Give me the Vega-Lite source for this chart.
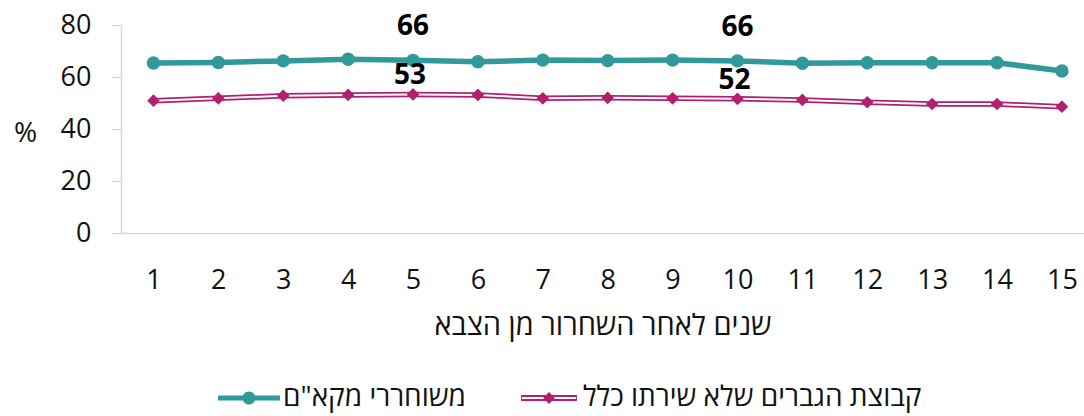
{
  "$schema": "https://vega.github.io/schema/vega-lite/v6.json",
  "width": 963,
  "height": 208,
  "autosize": {"type": "none"},
  "padding": {"left": 121, "top": 25, "right": 0, "bottom": 183},
  "background": "white",
  "config": {"font": "Open Sans", "view": {"stroke": null}},
  "data": {
    "values": [
      {"year": 1, "series": "משוחררי מקא\"ם", "value": 65.4},
      {"year": 2, "series": "משוחררי מקא\"ם", "value": 65.6},
      {"year": 3, "series": "משוחררי מקא\"ם", "value": 66.2},
      {"year": 4, "series": "משוחררי מקא\"ם", "value": 66.8},
      {"year": 5, "series": "משוחררי מקא\"ם", "value": 66.4},
      {"year": 6, "series": "משוחררי מקא\"ם", "value": 65.9},
      {"year": 7, "series": "משוחררי מקא\"ם", "value": 66.5},
      {"year": 8, "series": "משוחררי מקא\"ם", "value": 66.3},
      {"year": 9, "series": "משוחררי מקא\"ם", "value": 66.5},
      {"year": 10, "series": "משוחררי מקא\"ם", "value": 66.2},
      {"year": 11, "series": "משוחררי מקא\"ם", "value": 65.3},
      {"year": 12, "series": "משוחררי מקא\"ם", "value": 65.5},
      {"year": 13, "series": "משוחררי מקא\"ם", "value": 65.5},
      {"year": 14, "series": "משוחררי מקא\"ם", "value": 65.5},
      {"year": 15, "series": "משוחררי מקא\"ם", "value": 62.3},
      {"year": 1, "series": "קבוצת הגברים שלא שירתו כלל", "value": 50.9},
      {"year": 2, "series": "קבוצת הגברים שלא שירתו כלל", "value": 51.8},
      {"year": 3, "series": "קבוצת הגברים שלא שירתו כלל", "value": 52.8},
      {"year": 4, "series": "קבוצת הגברים שלא שירתו כלל", "value": 53.1},
      {"year": 5, "series": "קבוצת הגברים שלא שירתו כלל", "value": 53.3},
      {"year": 6, "series": "קבוצת הגברים שלא שירתו כלל", "value": 53.1},
      {"year": 7, "series": "קבוצת הגברים שלא שירתו כלל", "value": 51.8},
      {"year": 8, "series": "קבוצת הגברים שלא שירתו כלל", "value": 52.0},
      {"year": 9, "series": "קבוצת הגברים שלא שירתו כלל", "value": 51.8},
      {"year": 10, "series": "קבוצת הגברים שלא שירתו כלל", "value": 51.6},
      {"year": 11, "series": "קבוצת הגברים שלא שירתו כלל", "value": 51.2},
      {"year": 12, "series": "קבוצת הגברים שלא שירתו כלל", "value": 50.3},
      {"year": 13, "series": "קבוצת הגברים שלא שירתו כלל", "value": 49.6},
      {"year": 14, "series": "קבוצת הגברים שלא שירתו כלל", "value": 49.6},
      {"year": 15, "series": "קבוצת הגברים שלא שירתו כלל", "value": 48.6}
    ]
  },
  "encoding": {
    "x": {
      "field": "year",
      "type": "quantitative",
      "scale": {"domain": [0.5, 15.34], "nice": false, "zero": false},
      "axis": {
        "values": [1, 2, 3, 4, 5, 6, 7, 8, 9, 10, 11, 12, 13, 14, 15],
        "format": "d",
        "grid": false,
        "ticks": false,
        "tickSize": 0,
        "domainColor": "#d9d9d9",
        "domainWidth": 1.5,
        "labelFontSize": 27,
        "labelColor": "#111111",
        "labelPadding": 34,
        "labelFlush": false,
        "title": "שנים לאחר השחרור מן הצבא",
        "titleFontSize": 29,
        "titleFontWeight": "normal",
        "titleColor": "#111111",
        "titlePadding": 18
      }
    },
    "y": {
      "field": "value",
      "type": "quantitative",
      "scale": {"domain": [0, 80], "nice": false},
      "axis": {
        "values": [0, 20, 40, 60, 80],
        "grid": false,
        "tickSize": 10,
        "tickColor": "#d9d9d9",
        "tickWidth": 1.5,
        "domainColor": "#d9d9d9",
        "domainWidth": 1.5,
        "labelFontSize": 27,
        "labelColor": "#111111",
        "labelPadding": 20,
        "labelFlush": false,
        "title": "%",
        "titleAngle": 0,
        "titleX": -96,
        "titleY": 108,
        "titleAlign": "center",
        "titleBaseline": "middle",
        "titleFontSize": 28,
        "titleFontWeight": "normal",
        "titleColor": "#111111"
      }
    }
  },
  "layer": [
    {
      "mark": {"type": "line", "strokeWidth": 5.5},
      "encoding": {
        "color": {
          "field": "series",
          "type": "nominal",
          "scale": {
            "domain": ["משוחררי מקא\"ם", "קבוצת הגברים שלא שירתו כלל"],
            "range": ["#31999A", "#B0206E"]
          },
          "legend": {
            "orient": "none",
            "legendX": 97,
            "legendY": 342,
            "direction": "horizontal",
            "title": null,
            "symbolSize": 3844,
            "labelFontSize": 28,
            "labelColor": "#111111",
            "labelOffset": 3,
            "labelLimit": 0,
            "columnPadding": 52,
            "encode": {
              "symbols": {
                "update": {
                  "shape": {"signal": "datum.index === 0 ? 'M-1,-0.08L1,-0.08L1,0.08L-1,0.08Z M0.21,0A0.21,0.21 0 1,1 -0.21,0A0.21,0.21 0 1,1 0.21,0Z' : 'M-0.9,-0.1L0.9,-0.1L0.9,0.1L-0.9,0.1Z M-0.87,-0.035L-0.87,0.035L0.87,0.035L0.87,-0.035Z M0,-0.19L0.19,0L0,0.19L-0.19,0Z'"},
                  "fill": {"signal": "datum.index === 0 ? '#31999A' : '#B0206E'"},
                  "stroke": {"value": "transparent"},
                  "strokeWidth": {"value": 0},
                  "opacity": {"value": 1}
                }
              }
            }
          }
        }
      }
    },
    {
      "transform": [{"filter": {"field": "series", "equal": "קבוצת הגברים שלא שירתו כלל"}}],
      "mark": {"type": "line", "strokeWidth": 2, "color": "#ffffff"},
      "encoding": {}
    },
    {
      "transform": [{"filter": {"field": "series", "equal": "משוחררי מקא\"ם"}}],
      "mark": {"type": "point", "shape": "circle", "filled": true, "size": 180, "opacity": 1, "color": "#31999A"},
      "encoding": {}
    },
    {
      "transform": [{"filter": {"field": "series", "equal": "קבוצת הגברים שלא שירתו כלל"}}],
      "mark": {"type": "point", "shape": "diamond", "filled": true, "size": 160, "opacity": 1, "color": "#B0206E"},
      "encoding": {}
    },
    {
      "transform": [
        {"filter": {"field": "series", "equal": "משוחררי מקא\"ם"}},
        {"filter": {"field": "year", "oneOf": [5, 10]}}
      ],
      "mark": {"type": "text", "dy": -33, "fontSize": 28, "fontWeight": "bold", "color": "#000000"},
      "encoding": {"text": {"field": "value", "type": "quantitative", "format": ".0f"}}
    },
    {
      "transform": [
        {"filter": {"field": "series", "equal": "קבוצת הגברים שלא שירתו כלל"}},
        {"filter": {"field": "year", "oneOf": [5, 10]}}
      ],
      "mark": {"type": "text", "dy": -18, "dx": -3, "fontSize": 28, "fontWeight": "bold", "color": "#000000"},
      "encoding": {"text": {"field": "value", "type": "quantitative", "format": ".0f"}}
    }
  ]
}
